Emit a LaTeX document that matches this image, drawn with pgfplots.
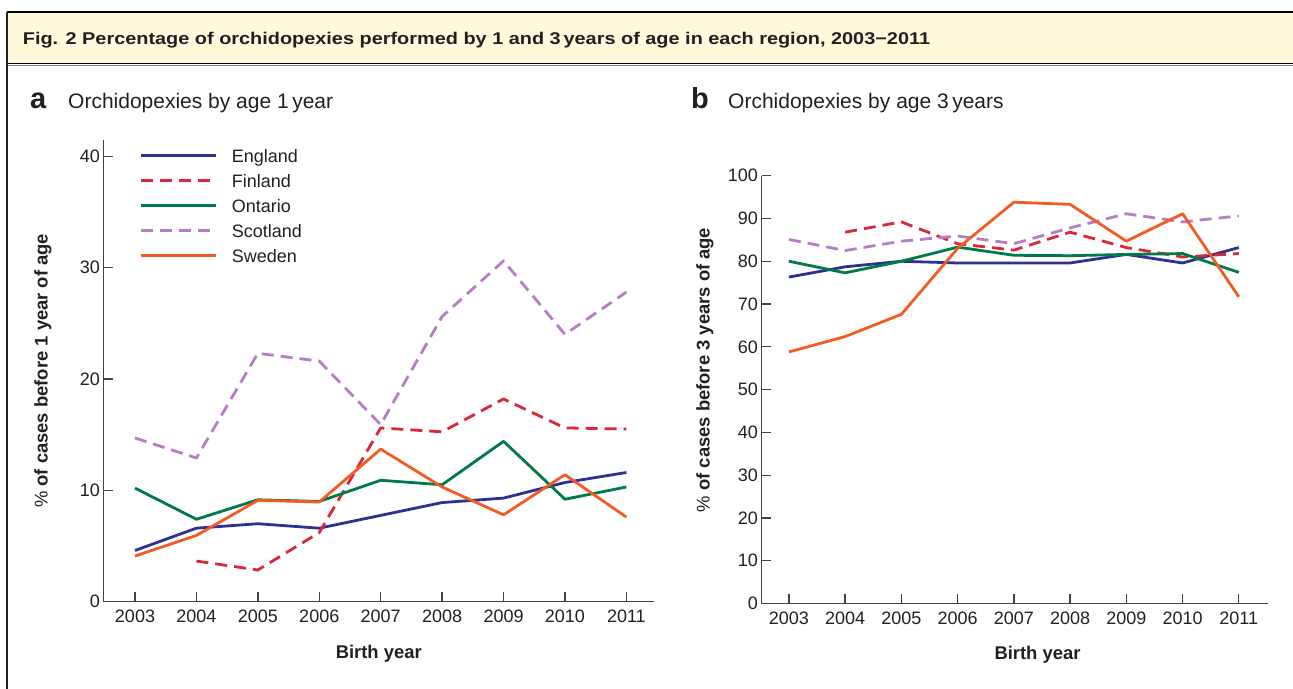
\documentclass[border=0pt]{standalone}
\usepackage{fontspec}
\setmainfont{Liberation Sans}
\newfontfamily\titlefont[FakeStretch=1.17]{Liberation Sans}
\usepackage{pgfplots}
\pgfplotsset{compat=1.18}
\definecolor{cEng}{RGB}{46,49,146}
\definecolor{cFin}{RGB}{218,40,56}
\definecolor{cOnt}{RGB}{0,122,70}
\definecolor{cSco}{RGB}{183,125,195}
\definecolor{cSwe}{RGB}{242,92,36}
\definecolor{band}{RGB}{255,249,219}
\definecolor{txt}{RGB}{35,31,32}
\pgfplotsset{
  panel/.style={
    scale only axis,
    axis lines=left,
    axis line style={-, line width=1.3pt, draw=txt!85},
    tick align=inside,
    major tick length=10pt,
    tick style={line width=1.3pt, draw=txt!85},
    xtick={2003,2004,2005,2006,2007,2008,2009,2010,2011},
    scaled x ticks=false, scaled y ticks=false,
    /pgf/number format/assume math mode=true,
    /pgf/number format/1000 sep={},
    ticklabel style={font=\fontsize{18}{20}\selectfont, text=txt},
    xticklabel style={yshift=-5pt},
    label style={font=\bfseries\fontsize{18.4}{20}\selectfont, text=txt},
    xlabel style={at={(axis description cs:0.5,0)}, anchor=base, yshift=-56.3pt},
  },
  lw/.style={line width=2.8pt, line join=round},
  dsh/.style={dash pattern=on 12pt off 7pt},
}
\begin{document}
\begin{tikzpicture}
\useasboundingbox (0,0) rectangle (1293pt,-688pt);
% header band and frame
\fill[band] (7pt,-12pt) rectangle (1300pt,-64pt);
\draw[black, line width=1.4pt] (7pt,-12pt) -- (1300pt,-12pt);
\draw[gray, line width=1pt] (7pt,-65pt) -- (1300pt,-65pt);
\draw[black, line width=1.3pt] (7pt,-63.5pt) -- (1300pt,-63.5pt);
\draw[txt, line width=1.3pt] (7pt,-12pt) -- (7pt,-700pt);
\node[anchor=base west, inner sep=0pt, text=txt] at (22.7pt,-44pt)
  {\titlefont\bfseries\fontsize{17}{20}\selectfont Fig. 2 Percentage of orchidopexies performed by 1 and 3\,years of age in each region, 2003−2011};
% panel titles
\node[anchor=base west, inner sep=0pt, text=txt] at (30pt,-108pt) {\bfseries\fontsize{29}{30}\selectfont a};
\node[anchor=base west, inner sep=0pt, text=txt] at (68pt,-108pt) {\fontsize{21}{24}\selectfont Orchidopexies by age 1\,year};
\node[anchor=base west, inner sep=0pt, text=txt] at (691pt,-108pt) {\bfseries\fontsize{29}{30}\selectfont b};
\node[anchor=base west, inner sep=0pt, text=txt] at (728pt,-108pt) {\fontsize{21}{24}\selectfont Orchidopexies by age 3\,years};

\begin{axis}[panel,
  at={(103.5pt,-601.7pt)}, anchor=south west,
  width=550.5pt, height=461.7pt,
  xmin=2002.487, xmax=2011.45, ymin=0, ymax=41.45,
  ytick={0,10,20,30,40},
  xlabel={Birth year},
  ylabel={{\mdseries\%} of cases before 1 year of age},
  ylabel style={at={(axis description cs:0,0.5)}, anchor=center, xshift=0pt, yshift=60.5pt},
  legend style={at={(axis description cs:0.0663,0.9943)}, anchor=north west,
    draw=none, fill=none, inner sep=0pt, outer sep=0pt, row sep=0pt, column sep=0pt,
    font=\fontsize{18}{20}\selectfont, text=txt,
    nodes={inner sep=0pt}},
  legend cell align=left,
  legend image code/.code={\draw[#1, line width=2.8pt] (0pt,1.3pt) -- (75pt,1.3pt);
     \path (0pt,-9.8pt) (89pt,12.4pt);},
]
\addplot[cEng, lw] coordinates {(2003,4.6) (2004,6.6) (2005,7.0) (2006,6.6) (2007,7.75) (2008,8.9) (2009,9.3) (2010,10.7) (2011,11.6)};
\addlegendentry{England}
\addplot[cFin, lw, dsh] coordinates {(2004,3.65) (2005,2.85) (2006,6.2) (2007,15.6) (2008,15.25) (2009,18.2) (2010,15.6) (2011,15.5)};
\addlegendentry{Finland}
\addplot[cOnt, lw] coordinates {(2003,10.2) (2004,7.4) (2005,9.15) (2006,9.0) (2007,10.9) (2008,10.5) (2009,14.4) (2010,9.2) (2011,10.3)};
\addlegendentry{Ontario}
\addplot[cSco, lw, dsh] coordinates {(2003,14.7) (2004,12.9) (2005,22.3) (2006,21.6) (2007,15.9) (2008,25.6) (2009,30.6) (2010,24.0) (2011,27.8)};
\addlegendentry{Scotland}
\addplot[cSwe, lw] coordinates {(2003,4.1) (2004,5.95) (2005,9.1) (2006,8.95) (2007,13.7) (2008,10.3) (2009,7.8) (2010,11.4) (2011,7.6)};
\addlegendentry{Sweden}
\end{axis}

\begin{axis}[panel,
  at={(761.5pt,-603.5pt)}, anchor=south west,
  width=506pt, height=427.8pt,
  xmin=2002.513, xmax=2011.51, ymin=0, ymax=100,
  ytick={0,10,20,30,40,50,60,70,80,90,100},
  xlabel={Birth year},
  xlabel style={xshift=23pt},
  ylabel={{\mdseries\%} of cases before 3 years of age},
  ylabel style={at={(axis description cs:0,0.546)}, anchor=center, xshift=0pt, yshift=56.5pt},
]
\addplot[cEng, lw] coordinates {(2003,76.3) (2004,78.7) (2005,80.0) (2006,79.6) (2007,79.6) (2008,79.6) (2009,81.6) (2010,79.6) (2011,83.2)};
\addplot[cFin, lw, dsh] coordinates {(2004,86.8) (2005,89.2) (2006,84.1) (2007,82.6) (2008,86.8) (2009,83.2) (2010,81.0) (2011,81.8)};
\addplot[cOnt, lw] coordinates {(2003,80.0) (2004,77.3) (2005,80.0) (2006,83.3) (2007,81.4) (2008,81.3) (2009,81.6) (2010,81.8) (2011,77.4)};
\addplot[cSco, lw, dsh] coordinates {(2003,85.1) (2004,82.5) (2005,84.7) (2006,85.9) (2007,84.1) (2008,87.8) (2009,91.1) (2010,89.2) (2011,90.6)};
\addplot[cSwe, lw] coordinates {(2003,58.8) (2004,62.4) (2005,67.6) (2006,83.0) (2007,93.8) (2008,93.3) (2009,84.7) (2010,91.1) (2011,71.7)};
\end{axis}
\end{tikzpicture}
\end{document}
